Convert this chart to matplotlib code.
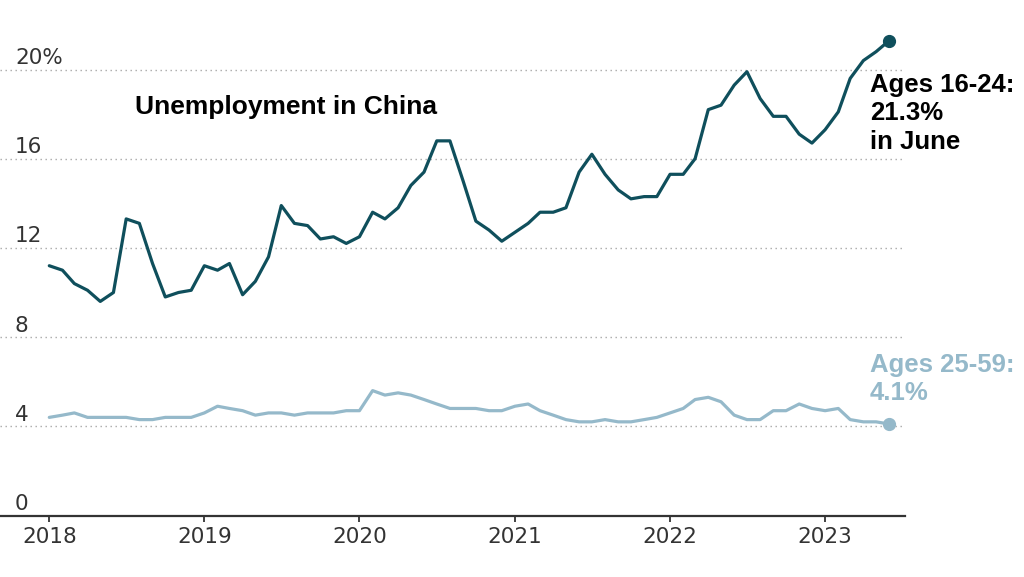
import matplotlib
matplotlib.use("Agg")
import matplotlib.pyplot as plt
import matplotlib.transforms as mtransforms
import pandas as pd

plt.rcParams['font.family'] = ['DejaVu Sans']
bold_font = ['Liberation Sans', 'DejaVu Sans']

# monthly data, Jan 2018 - Jun 2023
months = pd.date_range("2018-01-01", "2023-06-01", freq="MS")

youth = [11.2, 11.0, 10.4, 10.1, 9.6, 10.0, 13.3, 13.1, 11.3, 9.8, 10.0, 10.1,
         11.2, 11.0, 11.3, 9.9, 10.5, 11.6, 13.9, 13.1, 13.0, 12.4, 12.5, 12.2,
         12.5, 13.6, 13.3, 13.8, 14.8, 15.4, 16.8, 16.8, 15.0, 13.2, 12.8, 12.3,
         12.7, 13.1, 13.6, 13.6, 13.8, 15.4, 16.2, 15.3, 14.6, 14.2, 14.3, 14.3,
         15.3, 15.3, 16.0, 18.2, 18.4, 19.3, 19.9, 18.7, 17.9, 17.9, 17.1, 16.7,
         17.3, 18.1, 19.6, 20.4, 20.8, 21.3]

adult = [4.4, 4.5, 4.6, 4.4, 4.4, 4.4, 4.4, 4.3, 4.3, 4.4, 4.4, 4.4,
         4.6, 4.9, 4.8, 4.7, 4.5, 4.6, 4.6, 4.5, 4.6, 4.6, 4.6, 4.7,
         4.7, 5.6, 5.4, 5.5, 5.4, 5.2, 5.0, 4.8, 4.8, 4.8, 4.7, 4.7,
         4.9, 5.0, 4.7, 4.5, 4.3, 4.2, 4.2, 4.3, 4.2, 4.2, 4.3, 4.4,
         4.6, 4.8, 5.2, 5.3, 5.1, 4.5, 4.3, 4.3, 4.7, 4.7, 5.0, 4.8,
         4.7, 4.8, 4.3, 4.2, 4.2, 4.1]

y_ticks = [0, 4, 8, 12, 16, 20]
y_labels = ["0", "4", "8", "12", "16", "20%"]
x_ticks = pd.to_datetime(["2018-01-01", "2019-01-01", "2020-01-01",
                          "2021-01-01", "2022-01-01", "2023-01-01"])
x_labels = ["2018", "2019", "2020", "2021", "2022", "2023"]

dark = "#0f4f5c"
light = "#95b9ca"

fig = plt.figure(figsize=(10.24, 5.77), dpi=100)
ax = fig.add_axes([0, 1 - 515.5 / 577, 905 / 1024, (515.5 - 13.75) / 577])

ax.plot(months, adult, color=light, lw=2.3, solid_capstyle='round', zorder=3)
ax.plot(months, youth, color=dark, lw=2.3, solid_capstyle='round', zorder=4)
ax.plot(months[-1], youth[-1], 'o', color=dark, ms=8.5, zorder=5, clip_on=False)
ax.plot(months[-1], adult[-1], 'o', color=light, ms=8.5, zorder=5, clip_on=False)

ax.set_xlim(pd.Timestamp("2017-09-07"), pd.Timestamp("2023-07-08"))
ax.set_ylim(0, 22.5)

# dotted gridlines
ax.set_yticks(y_ticks)
ax.set_yticklabels([])
ax.tick_params(axis='y', length=0)
ax.yaxis.grid(True, color="#a8a8a8", lw=1.0, linestyle=(0, (1, 2.6)))
ax.set_axisbelow(True)

# y labels sit above their gridlines
lbl_trans = mtransforms.blended_transform_factory(ax.transAxes, ax.transData)
lbl_trans = mtransforms.offset_copy(lbl_trans, fig=fig, x=0, y=4.0, units='points')
for v, s in zip(y_ticks, y_labels):
    ax.text(15 / 905, v, s, transform=lbl_trans, ha='left', va='baseline',
            fontsize=15.5, color="#333333")

ax.set_xticks(x_ticks)
ax.set_xticklabels(x_labels)
ax.tick_params(axis='x', length=4.5, width=1.3, color="#333333", pad=3.5,
               labelsize=15.5, labelcolor="#333333")

for side in ['top', 'right', 'left']:
    ax.spines[side].set_visible(False)
ax.spines['bottom'].set_color("#333333")
ax.spines['bottom'].set_linewidth(1.6)

fig.text(135 / 1024, 1 - 114 / 577, "Unemployment in China", fontsize=19,
         family=bold_font, fontweight='bold', color="black",
         va='baseline', ha='left')

ax.annotate("Ages 16-24:\n21.3%\nin June", xy=(months[-1], youth[-1]),
            xytext=(-14, -23.5), textcoords='offset points', ha='left', va='top',
            fontsize=18.5, family=bold_font, fontweight='bold', color="black",
            linespacing=1.22, annotation_clip=False)
ax.annotate("Ages 25-59:\n4.1%", xy=(months[-1], adult[-1]),
            xytext=(-14, 51.5), textcoords='offset points', ha='left', va='top',
            fontsize=18.5, family=bold_font, fontweight='bold', color=light,
            linespacing=1.22, annotation_clip=False)

fig.savefig("out.png", dpi=100)
